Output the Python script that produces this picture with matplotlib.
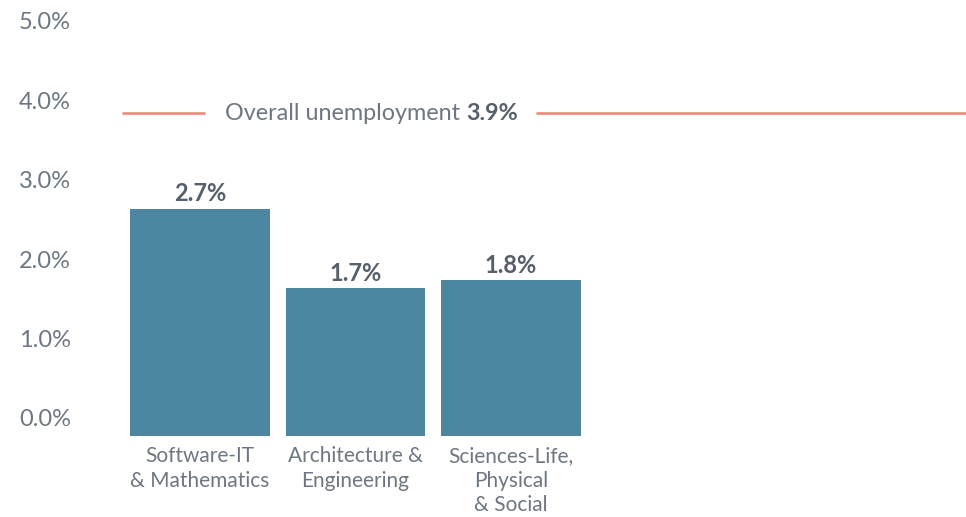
import matplotlib
matplotlib.use("Agg")
import matplotlib.pyplot as plt
import matplotlib.transforms as mtransforms

plt.rcParams['font.family'] = ['Lato', 'DejaVu Sans']

# data
categories = ['Software-IT\n& Mathematics', 'Architecture &\nEngineering', 'Sciences-Life,\nPhysical\n& Social']
rates = [2.7, 1.7, 1.8]
overall = 3.9
yticks = [0, 1, 2, 3, 4, 5]
ytick_labels = ['0.0%', '1.0%', '2.0%', '3.0%', '4.0%', '5.0%']

bar_color = '#4d86a0'
line_color = '#f08272'
grey = '#6e7781'
dark = '#56606b'

fig = plt.figure(figsize=(9.66, 5.17), dpi=100)
ax = fig.add_axes([85 / 966, 81 / 517, 881 / 966, 436 / 517])

base = -0.164   # bars start a little below the zero label, like the original
ax.set_ylim(base, 5.327)
ax.set_xlim(-0.7395, 4.926)

x = list(range(len(rates)))
bars = ax.bar(x, [r - base for r in rates], bottom=base, width=0.9, color=bar_color)

for xi, r in zip(x, rates):
    ax.annotate(f'{r:.1f}%', (xi, r), xytext=(0, 2.5), textcoords='offset points',
                ha='center', va='bottom', fontsize=17, fontweight='bold', color=dark)

# y axis labels, sitting a bit above their values
ax.set_yticks(yticks)
ax.set_yticklabels(ytick_labels, fontsize=17, color=grey)
ax.tick_params(axis='y', length=0, pad=10)
shift = mtransforms.ScaledTranslation(0, 5 / 100, fig.dpi_scale_trans)
for lab in ax.get_yticklabels():
    lab.set_transform(lab.get_transform() + shift)

ax.set_xticks(x)
ax.set_xticklabels(categories, fontsize=15, color=grey, linespacing=1.3)
ax.tick_params(axis='x', length=0, pad=7)

for s in ax.spines.values():
    s.set_visible(False)

# overall unemployment line with label in a gap
t1 = ax.text(0.16, overall, 'Overall unemployment ', fontsize=16.8, color=grey,
             va='center', ha='left')
t2 = ax.annotate(f'{overall}%', xy=(1, 0), xycoords=t1, ha='left', va='bottom',
                 fontsize=16.8, fontweight='bold', color=dark)

fig.canvas.draw()
r = fig.canvas.get_renderer()
inv = ax.transData.inverted()
x_left = inv.transform((t1.get_window_extent(r).x0 - 20, 0))[0]
x_right = inv.transform((t2.get_window_extent(r).x1 + 18, 0))[0]
ax.hlines(overall, -0.5, x_left, color=line_color, lw=1.8)
ax.hlines(overall, x_right, 4.926, color=line_color, lw=1.8)

fig.savefig('out.png', dpi=100)
